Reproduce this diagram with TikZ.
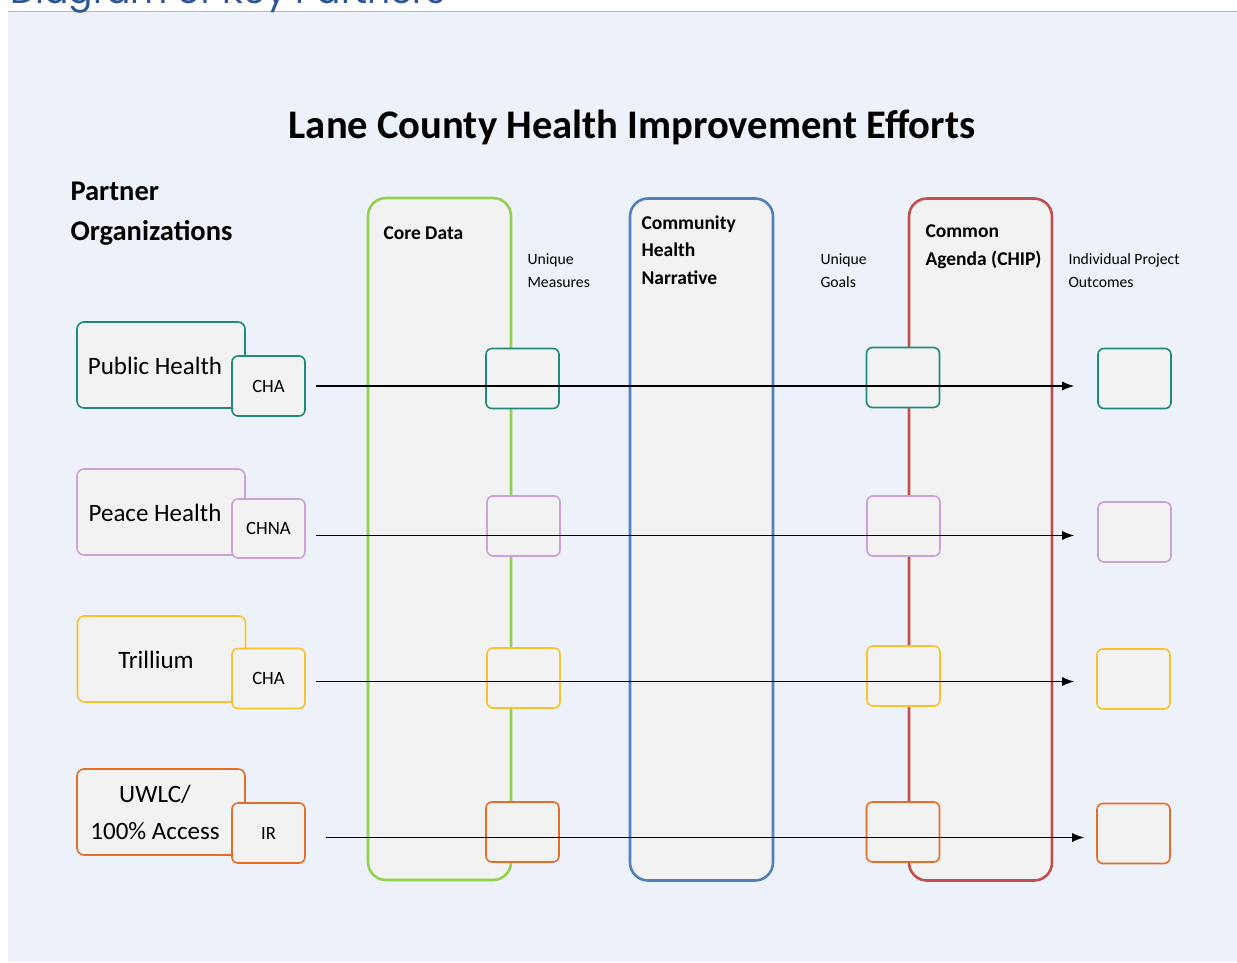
\documentclass[tikz,border=0pt]{standalone}
\usepackage{fontspec}
\setmainfont{Carlito}
\newfontfamily\kopfschrift{Poppins}
\usepackage{xcolor}
\usepackage{tikz}
\usetikzlibrary{arrows.meta}

\definecolor{flaeche}{RGB}{237,241,249}
\definecolor{boxfill}{RGB}{242,242,242}
\definecolor{kopfblau}{RGB}{47,85,151}
\definecolor{trennlinie}{RGB}{176,184,200}
\definecolor{gruen}{RGB}{146,208,80}
\definecolor{blau}{RGB}{79,129,189}
\definecolor{rot}{RGB}{192,80,77}
\definecolor{petrol}{RGB}{31,138,122}
\definecolor{lila}{RGB}{205,160,220}
\definecolor{gelb}{RGB}{248,194,44}
\definecolor{orange}{RGB}{228,110,40}

\begin{document}
\begin{tikzpicture}[x=1pt, y=-1pt, >=Latex, font=\fontsize{18.7}{22}\selectfont,
    spalte/.style={draw=#1, line width=2.6pt, rounded corners=18pt, fill=boxfill,
        minimum width=143pt, minimum height=682pt, inner sep=0pt},
    partner/.style={draw=#1, line width=1.6pt, rounded corners=7pt, fill=boxfill,
        minimum width=168pt, minimum height=86pt, inner sep=0pt},
    kasten/.style={draw=#1, line width=1.6pt, rounded corners=6pt, fill=boxfill,
        minimum width=73pt, minimum height=60pt, inner sep=0pt},
    pfeil/.style={->, line width=1.2pt, >={Latex[length=12pt,width=9pt]}},
    klein/.style={font=\fontsize{15.7}{23}\selectfont, align=left, anchor=west},
    spaltentitel/.style={font=\bfseries\fontsize{19.5}{27.5}\selectfont, align=left, anchor=west},
    partnertxt/.style={font=\fontsize{25}{37}\selectfont, align=center}]

    \useasboundingbox (0,0) rectangle (1237,962);

    % --- Hintergrund und Kopfzeile ---
    \fill[flaeche] (8,12) rectangle (1237,962);
    \draw[trennlinie, line width=1pt] (8,11) -- (1237,11);
    \node[anchor=base west, inner sep=0pt, text=kopfblau,
        font=\kopfschrift\fontsize{36}{40}\selectfont] (kopf) at (10,3) {Diagram of Key Partners};

    % Titel
    \node[font=\bfseries\fontsize{40.6}{48}\selectfont] (titel) at (632,127) {Lane County Health Improvement Efforts};
    \node[anchor=west, align=left, font=\bfseries\fontsize{28.5}{40}\selectfont] (partnerorg) at (67,214)
        {Partner\\Organizations};

    % --- Spalten ---
    \node[spalte=gruen] (core) at (439.5,539) {};
    \node[spalte=blau]  (chn)  at (701.5,539.5) {};
    \node[spalte=rot]   (chip) at (980.5,539.5) {};

    \node[spaltentitel] (coretxt) at (380,233) {Core Data};
    \node[spaltentitel] (chntxt)  at (638,250) {Community\\Health\\Narrative};
    \node[spaltentitel] (chiptxt) at (922,247) {Common\\Agenda (CHIP)};

    \node[klein] (messtxt)   at (524,271) {Unique\\Measures};
    \node[klein] (zieltxt)   at (817,271) {Unique\\Goals};
    \node[klein] (ergebtxt)  at (1065,271) {Individual Project\\Outcomes};

    % --- Zeile 1: Public Health ---
    \node[partner=petrol] (ph) at (161,365) {};
    \node[kasten=petrol] (cha1) at (268.5,386) {CHA};
    \node[partnertxt] (phtxt) at (155,366) {Public Health};
    \node[kasten=petrol] (mess1) at (522.5,378.5) {};
    \node[kasten=petrol] (ziel1) at (903,377.5) {};
    \node[kasten=petrol] (erg1) at (1134.5,378.5) {};
    \draw[pfeil, shorten >=23pt] ([xshift=10pt]cha1.east) -- (cha1.east -| erg1.west);

    % --- Zeile 2: Peace Health ---
    \node[partner=lila] (peace) at (161,512) {};
    \node[kasten=lila, minimum height=59pt] (chna) at (268.5,528.5) {CHNA};
    \node[partnertxt] (peacetxt) at (155,513) {Peace Health};
    \node[kasten=lila] (mess2) at (523.5,526) {};
    \node[kasten=lila] (ziel2) at (903.5,526) {};
    \node[kasten=lila] (erg2) at (1134.5,532) {};
    \draw[pfeil, shorten >=23pt] ([xshift=10pt,yshift=-7pt]chna.east) -- ([yshift=-7pt]chna.east -| erg2.west);

    % --- Zeile 3: Trillium ---
    \node[partner=gelb] (trill) at (161.5,659) {};
    \node[kasten=gelb] (cha3) at (268.5,678.5) {CHA};
    \node[partnertxt] (trilltxt) at (156,660) {Trillium};
    \node[kasten=gelb] (mess3) at (523.5,678) {};
    \node[kasten=gelb] (ziel3) at (903.5,676) {};
    \node[kasten=gelb] (erg3) at (1133.5,679) {};
    \draw[pfeil, shorten >=22pt] ([xshift=10pt,yshift=-3pt]cha3.east) -- ([yshift=-3pt]cha3.east -| erg3.west);

    % --- Zeile 4: UWLC / 100% Access ---
    \node[partner=orange] (uwlc) at (161,812) {};
    \node[kasten=orange] (ir) at (268.5,833) {IR};
    \node[partnertxt] (uwlctxt) at (155,812.5) {UWLC/\\100\% Access};
    \node[kasten=orange] (mess4) at (522.5,832) {};
    \node[kasten=orange] (ziel4) at (903,832) {};
    \node[kasten=orange] (erg4) at (1133.5,833.5) {};
    \draw[pfeil, shorten >=12pt] ([xshift=20pt,yshift=-4.5pt]ir.east) -- ([yshift=-4.5pt]ir.east -| erg4.west);

\end{tikzpicture}
\end{document}
